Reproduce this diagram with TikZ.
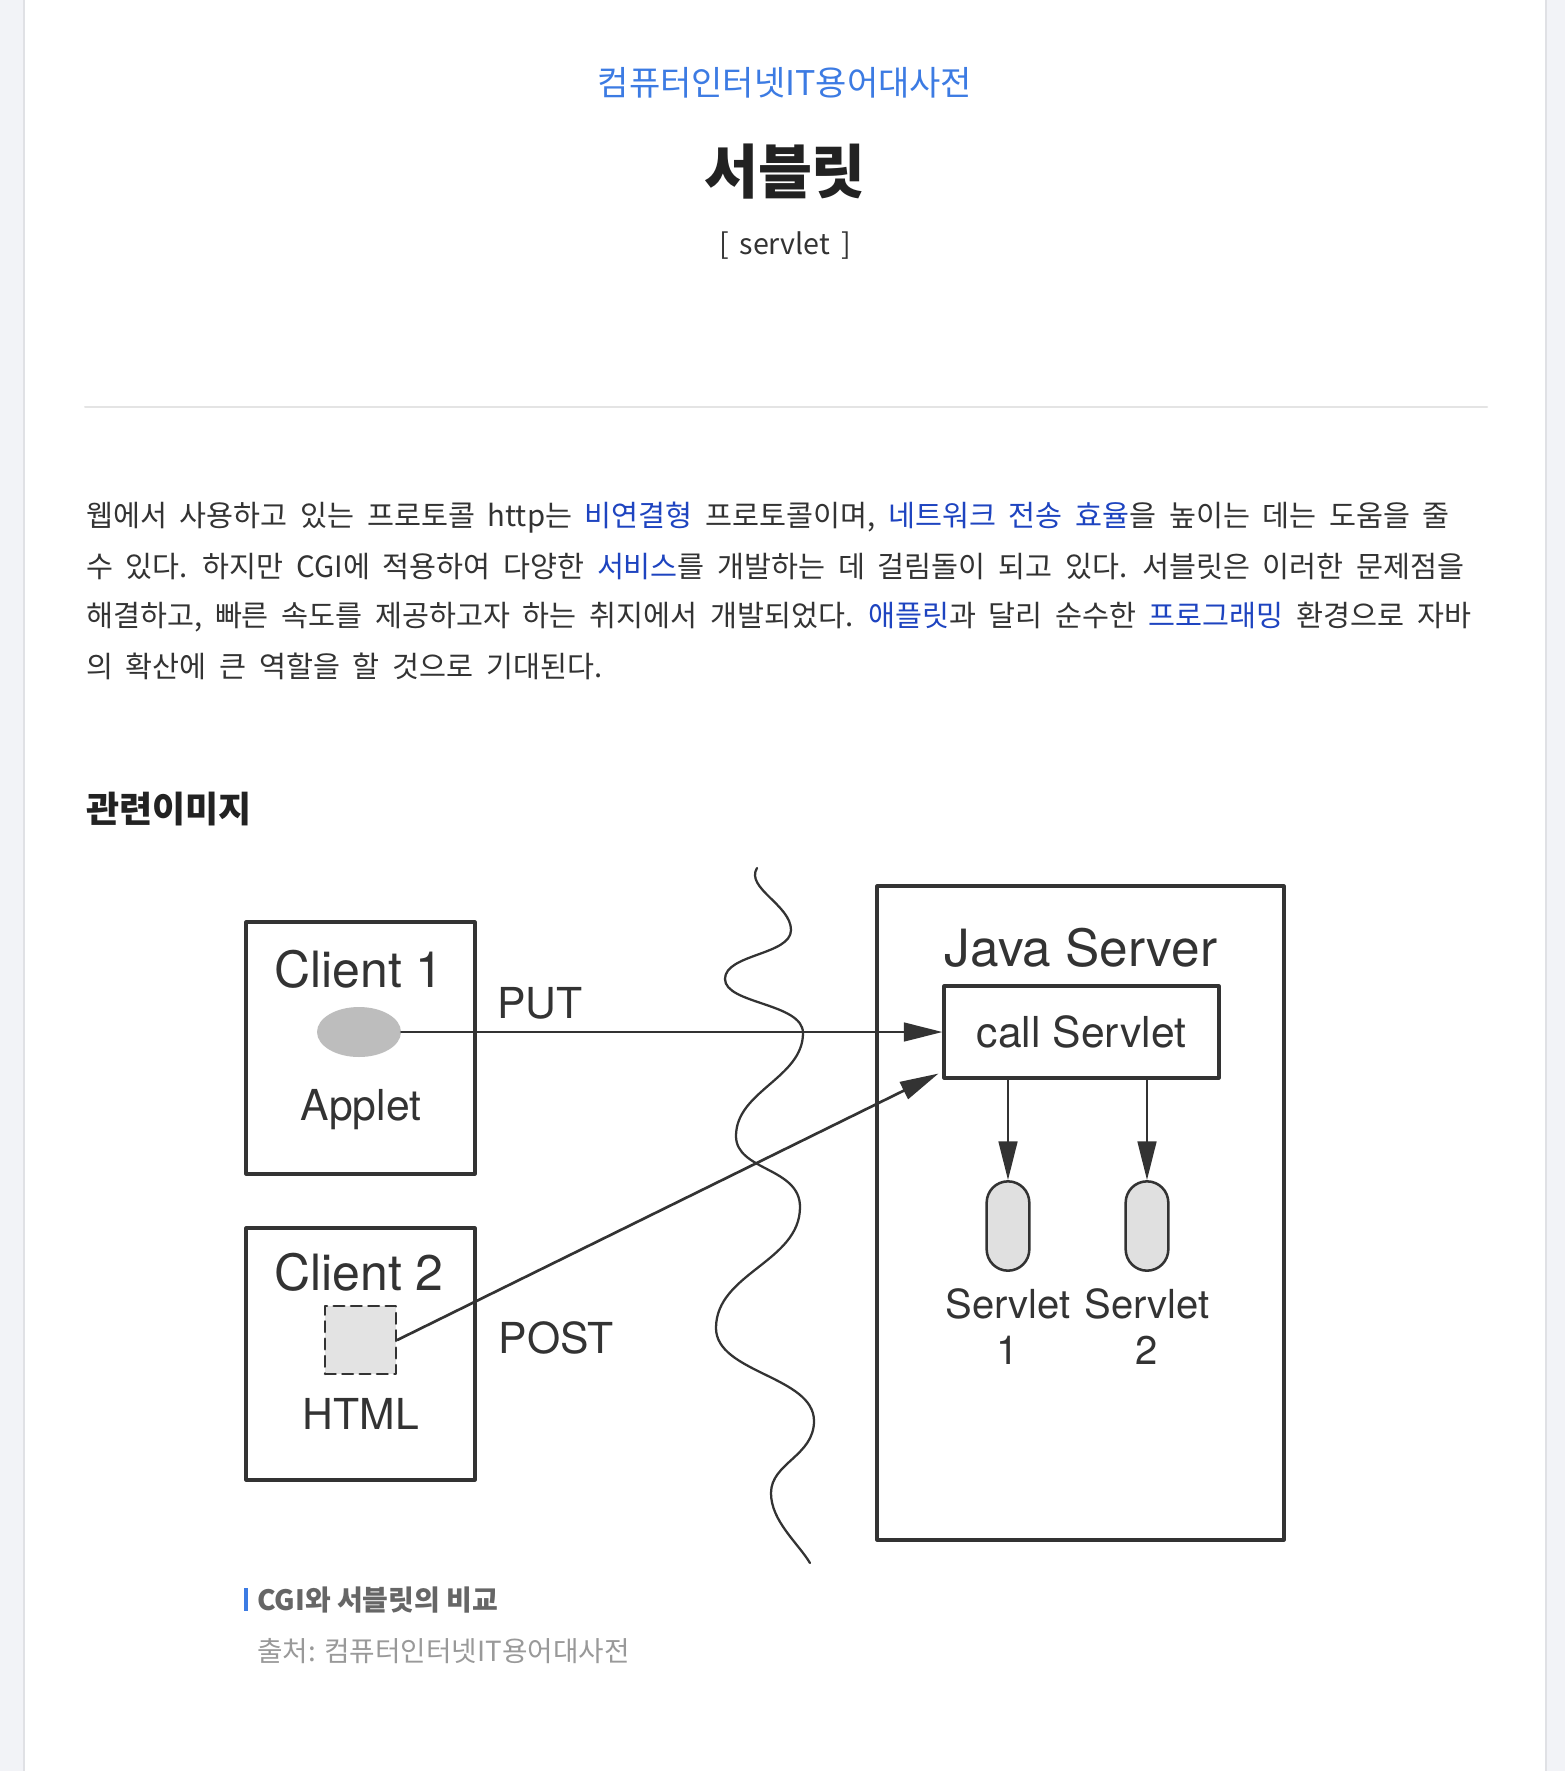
\documentclass[tikz,border=0pt]{standalone}
\usepackage{fontspec}
\setmainfont{TeX Gyre Heros}
\newfontfamily\kr{Noto Sans CJK KR}
\usetikzlibrary{arrows.meta,shapes.geometric}
\definecolor{pagebg}{HTML}{F2F3F7}
\definecolor{edgeline}{HTML}{E0E1E5}
\definecolor{dictblue}{HTML}{3C7BE3}
\definecolor{linkblue}{HTML}{1E44C0}
\definecolor{bodytext}{HTML}{333333}
\definecolor{headtext}{HTML}{222222}
\definecolor{rulegray}{HTML}{E4E4E4}
\definecolor{figline}{HTML}{333333}
\definecolor{appletgray}{HTML}{BDBDBD}
\definecolor{htmlgray}{HTML}{E3E3E3}
\definecolor{servletgray}{HTML}{E0E0E0}
\definecolor{capgray}{HTML}{666666}
\definecolor{srcgray}{HTML}{999999}
\newcommand\lnk[1]{\textcolor{linkblue}{#1}}
\newcommand\wordgap[1]{\spaceskip#1\relax}

\begin{document}
\begin{tikzpicture}[x=0.75pt, y=-0.75pt, line join=round, line cap=round,
    >={Triangle[length=29pt,width=14pt]},
    box/.style={draw=figline, line width=2.3pt, rectangle, inner sep=0},
    lbl/.style={inner sep=0, text=figline},
    krline/.style={inner sep=0, anchor=west, text=bodytext,
      font=\kr\fontsize{22}{26}\selectfont\wordgap{9.5pt}},
    capsule/.style={draw=figline, line width=1.9pt, fill=servletgray, rounded corners=16pt,
      minimum width=32pt, minimum height=67pt, inner sep=0},
    wave/.style={figline, line width=1.7pt},
    link/.style={->, figline, line width=2pt}]
  \def\u{0.75pt}
  \def\W{1565} \def\H{1771}
  % page
  \useasboundingbox (0,0) rectangle (\W,\H);
  \fill[pagebg] (0,0) rectangle (\W,\H);
  \fill[white] (25,0) rectangle (1546,\H);
  \draw[edgeline, line width=1.2pt] (24,0) -- (24,\H) (1546,0) -- (1546,\H);

  % heading
  \node[inner sep=0, text=dictblue, font=\kr\fontsize{25.5}{30}\selectfont] (dict) at (785,83) {컴퓨터인터넷IT용어대사전};
  \node[inner sep=0, text=headtext, font=\kr\bfseries\fontsize{44}{52}\selectfont] (term) at (785,172) {서블릿};
  \node[inner sep=0, text=bodytext, font=\kr\fontsize{21.5}{26}\selectfont\wordgap{8pt}] (orig) at (785,246) {[ servlet ]};
  \draw[rulegray, line width=1.5pt] (85,407) -- (1487,407);

  % body text
  \node[krline] (line1) at (86,518) {웹에서 사용하고 있는 프로토콜 http는 \lnk{비연결형} 프로토콜이며, \lnk{네트워크 전송 효율}을 높이는 데는 도움을 줄};
  \node[krline] (line2) at (86,567) {수 있다. 하지만 CGI에 적용하여 다양한 \lnk{서비스}를 개발하는 데 걸림돌이 되고 있다. 서블릿은 이러한 문제점을};
  \node[krline] (line3) at (86,617) {해결하고, 빠른 속도를 제공하고자 하는 취지에서 개발되었다. \lnk{애플릿}과 달리 순수한 \lnk{프로그래밍} 환경으로 자바};
  \node[krline] (line4) at (86,666) {의 확산에 큰 역할을 할 것으로 기대된다.};
  \node[krline, text=headtext, font=\kr\bfseries\fontsize{27}{32}\selectfont] (imghead) at (86,809) {관련이미지};

  % clients
  \node[box, minimum width=229*\u, minimum height=252*\u] (client1) at (360.5,1048) {};
  \node[lbl, font=\fontsize{37.5}{44}\selectfont] (c1name) at (359,969) {Client 1};
  \node[ellipse, fill=appletgray, minimum width=84*\u, minimum height=50*\u, inner sep=0] (applet) at (359,1032) {};
  \node[lbl, font=\fontsize{32}{38}\selectfont] (appletname) at (361,1110) {Applet};
  \node[box, minimum width=229*\u, minimum height=252*\u] (client2) at (360.5,1354) {};
  \node[lbl, font=\fontsize{37.5}{44}\selectfont] (c2name) at (359,1272) {Client 2};
  \node[draw=figline, dash pattern=on 8pt off 5pt, line width=1.9pt, fill=htmlgray,
    minimum width=71*\u, minimum height=68*\u, inner sep=0] (html) at (360.5,1340) {};
  \node[lbl, font=\fontsize{32}{38}\selectfont] (htmlname) at (361,1414) {HTML};
  \node[lbl, font=\fontsize{32}{38}\selectfont] (put) at (540,1003) {PUT};
  \node[lbl, font=\fontsize{32}{38}\selectfont] (post) at (556,1338) {POST};

  % network
  \draw[wave] (757,868) .. controls (745,888) and (791,905) .. (791,930)
    .. controls +(0,25) and +(0,-25) .. (725,979)
    .. controls +(0,25) and +(0,-30) .. (803,1033)
    .. controls +(0,45) and +(0,-45) .. (736,1136)
    .. controls +(0,35) and +(0,-40) .. (800,1207)
    .. controls +(0,55) and +(0,-55) .. (716,1328)
    .. controls +(0,45) and +(0,-45) .. (814,1421)
    .. controls +(0,35) and +(0,-30) .. (771,1493)
    .. controls +(0,28) and +(-12,-20) .. (810,1563);

  % server
  \node[box, minimum width=407*\u, minimum height=654*\u] (server) at (1080.5,1213) {};
  \node[lbl, font=\fontsize{38.5}{46}\selectfont] (servername) at (1081,948) {Java Server};
  \node[box, text=figline, minimum width=275*\u, minimum height=92*\u, font=\fontsize{32}{38}\selectfont] (call) at (1081.5,1032) {call Servlet};
  \node[capsule] (s1) at (1008,1226) {};
  \node[capsule] (s2) at (1147,1226) {};
  \node[lbl, align=center, font=\fontsize{30}{34.5}\selectfont] (s1name) at (1008,1327) {Servlet\\1};
  \node[lbl, align=center, font=\fontsize{30}{34.5}\selectfont] (s2name) at (1147,1327) {Servlet\\2};

  % requests
  \draw[link] (applet.east) -- (call.west);
  \draw[link] (html.east) -- ([xshift=-3pt, yshift=4.5pt]call.south west);
  \draw[link] (call.south -| s1) -- (s1.north);
  \draw[link] (call.south -| s2) -- (s2.north);

  % caption
  \fill[dictblue] (244,1588) rectangle (248,1611);
  \node[krline, text=capgray, font=\kr\bfseries\fontsize{21}{25}\selectfont] (caption) at (257,1600) {CGI와 서블릿의 비교};
  \node[krline, text=srcgray, font=\kr\fontsize{20.8}{25}\selectfont] (source) at (257,1651) {출처: 컴퓨터인터넷IT용어대사전};
\end{tikzpicture}
\end{document}
